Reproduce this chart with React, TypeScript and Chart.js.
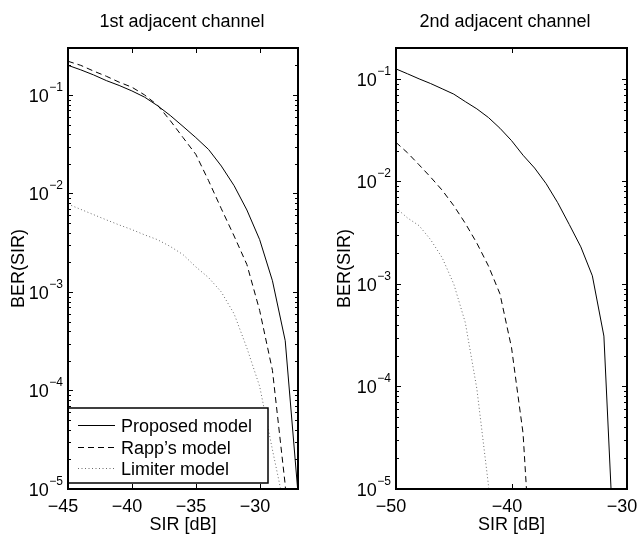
import React, { useEffect, useRef } from "react";
import { Chart, registerables } from "chart.js";

Chart.register(...registerables);

// ---------- data ----------
const leftTitle = "1st adjacent channel";
const rightTitle = "2nd adjacent channel";
const xAxisLabel = "SIR [dB]";
const yAxisLabel = "BER(SIR)";
const seriesNames = ["Proposed model", "Rapp’s model", "Limiter model"];

const leftSir = [-45, -44, -43, -42, -41, -40, -39, -38, -37, -36, -35, -34, -33, -32, -31, -30, -29, -28, -27];
const leftProposed = [0.2, 0.18, 0.16, 0.14, 0.125, 0.11, 0.095, 0.078, 0.062, 0.048, 0.037, 0.028, 0.019, 0.012, 0.0068, 0.0034, 0.0013, 3.2e-4, 9e-6];
const leftRapp = [0.22, 0.2, 0.175, 0.155, 0.135, 0.12, 0.1, 0.079, 0.055, 0.037, 0.025, 0.0135, 0.007, 0.0037, 0.0019, 6.5e-4, 1.6e-4, 1.1e-5, 1e-7];
const leftLimiter = [0.0078, 0.0069, 0.0061, 0.0054, 0.0048, 0.0043, 0.0038, 0.0034, 0.0029, 0.0024, 0.0018, 0.0014, 0.001, 6e-4, 2.7e-4, 1.1e-4, 2.5e-5, 6e-6, 1e-7];

const rightSir = [-50, -49, -48, -47, -46, -45, -44, -43, -42, -41, -40, -39, -38, -37, -36, -35, -34, -33, -32, -31, -30];
const rightProposed = [0.125, 0.112, 0.1, 0.09, 0.08, 0.071, 0.06, 0.051, 0.042, 0.033, 0.025, 0.018, 0.0135, 0.0095, 0.0062, 0.0038, 0.0023, 0.0012, 3.1e-4, 1.2e-6, 1e-8];
const rightRapp = [0.024, 0.019, 0.0145, 0.011, 0.0082, 0.0058, 0.0039, 0.0025, 0.0015, 8e-4, 2.4e-4, 3.5e-5, 5e-7];
const rightLimiter = [0.0055, 0.0044, 0.0037, 0.0027, 0.0018, 0.001, 4.2e-4, 9.5e-5, 1.1e-5, 1e-7];

const leftXTicks = [-45, -40, -35, -30];
const rightXTicks = [-50, -40, -30];
const yExponents = [-5, -4, -3, -2, -1];

// ---------- drawing ----------
const FONT = '"Liberation Sans", Arial, Helvetica, sans-serif';

const styles = [
  { borderColor: "#000", borderDash: [] as number[] },
  { borderColor: "#000", borderDash: [6, 4] },
  { borderColor: "#6a6a6a", borderDash: [1, 2.5] },
];

function fmtTick(v: number) {
  return v < 0 ? "\u2212" + String(-v) : String(v);
}

const matlabAxes = {
  id: "matlabAxes",
  afterDraw(chart: any, _args: any, o: any) {
    const ctx: CanvasRenderingContext2D = chart.ctx;
    const { left, right, top, bottom } = chart.chartArea;
    const xs = chart.scales.x;
    const ys = chart.scales.y;
    ctx.save();
    ctx.fillStyle = "#000";
    ctx.strokeStyle = "#000";

    // legend
    if (o.legend) {
      const L = o.legend;
      ctx.fillStyle = "#fff";
      ctx.fillRect(L.x, L.y, L.w, L.h);
      ctx.lineWidth = 1.5;
      ctx.strokeStyle = "#000";
      ctx.strokeRect(L.x, L.y, L.w, L.h);
      ctx.font = `18px ${FONT}`;
      ctx.textAlign = "left";
      ctx.textBaseline = "alphabetic";
      chart.data.datasets.forEach((ds: any, i: number) => {
        const yy = L.rowY[i];
        ctx.save();
        ctx.strokeStyle = ds.borderColor;
        ctx.lineWidth = 1;
        ctx.setLineDash(ds.borderDash || []);
        ctx.beginPath();
        ctx.moveTo(L.x + 10, yy + 0.5);
        ctx.lineTo(L.x + 47, yy + 0.5);
        ctx.stroke();
        ctx.restore();
        ctx.fillStyle = "#000";
        ctx.fillText(ds.label, L.x + 53, yy + 6.5);
      });
    }

    ctx.setLineDash([]);
    ctx.strokeStyle = "#000";
    ctx.fillStyle = "#000";

    // x ticks
    ctx.lineWidth = 1;
    ctx.font = `18px ${FONT}`;
    ctx.textAlign = "center";
    ctx.textBaseline = "alphabetic";
    for (const v of o.xTicks) {
      const px = Math.round(xs.getPixelForValue(v)) + 0.5;
      ctx.beginPath();
      ctx.moveTo(px, bottom);
      ctx.lineTo(px, bottom - 5);
      ctx.moveTo(px, top);
      ctx.lineTo(px, top + 5);
      ctx.stroke();
      ctx.fillText(fmtTick(v), px - 5.5, bottom + 23);
    }

    // y ticks (log)
    for (const e of yExponents) {
      const major = Math.pow(10, e);
      const py = Math.round(ys.getPixelForValue(major)) + 0.5;
      ctx.beginPath();
      ctx.moveTo(left, py);
      ctx.lineTo(left + 5, py);
      ctx.moveTo(right, py);
      ctx.lineTo(right - 5, py);
      ctx.stroke();
      // label 10^e
      const expText = "\u2212" + String(-e);
      ctx.font = `12px ${FONT}`;
      const ew = ctx.measureText(expText).width;
      ctx.font = `18px ${FONT}`;
      const bw = ctx.measureText("10").width;
      const xr = left - 5;
      ctx.textAlign = "left";
      ctx.fillText("10", xr - ew - bw - 0.5, py + 6.5);
      ctx.font = `12px ${FONT}`;
      ctx.fillText(expText, xr - ew, py - 5);
      for (let m = 2; m <= 9; m++) {
        const val = m * major;
        if (val > ys.max * 1.0001) break;
        const pm = Math.round(ys.getPixelForValue(val)) + 0.5;
        ctx.beginPath();
        ctx.moveTo(left, pm);
        ctx.lineTo(left + 3, pm);
        ctx.moveTo(right, pm);
        ctx.lineTo(right - 3, pm);
        ctx.stroke();
      }
    }

    // frame
    ctx.lineWidth = 2;
    ctx.strokeRect(left, top, right - left, bottom - top);

    // titles
    ctx.font = `18px ${FONT}`;
    ctx.textAlign = "center";
    ctx.textBaseline = "alphabetic";
    ctx.fillText(o.title, o.titleX, 27);
    ctx.fillText(xAxisLabel, (left + right) / 2, 530);
    ctx.save();
    ctx.translate(o.yLabelX, (top + bottom) / 2);
    ctx.rotate(-Math.PI / 2);
    ctx.fillText(yAxisLabel, 0, 0);
    ctx.restore();

    ctx.restore();
  },
};

function buildDatasets(xsArr: number[], series: number[][]) {
  return series.map((vals, i) => ({
    label: seriesNames[i],
    data: vals.map((y, j) => ({ x: xsArr[j], y })),
    borderColor: styles[i].borderColor,
    borderDash: styles[i].borderDash,
    borderWidth: 1,
    pointRadius: 0,
    tension: 0,
    fill: false,
  }));
}

function makeChart(
  canvas: HTMLCanvasElement,
  xsArr: number[],
  series: number[][],
  xMin: number,
  xMax: number,
  yMax: number,
  padding: any,
  pluginOpts: any
) {
  return new Chart(canvas, {
    type: "line",
    data: { datasets: buildDatasets(xsArr, series) as any },
    options: {
      animation: false,
      responsive: false,
      devicePixelRatio: 1,
      layout: { padding },
      plugins: {
        legend: { display: false },
        title: { display: false },
        tooltip: { enabled: false },
        matlabAxes: pluginOpts,
      } as any,
      scales: {
        x: { type: "linear", min: xMin, max: xMax, display: false },
        y: { type: "logarithmic", min: 1e-5, max: yMax, display: false },
      },
    },
    plugins: [matlabAxes as any],
  });
}

export default function App() {
  const leftRef = useRef<HTMLCanvasElement>(null);
  const rightRef = useRef<HTMLCanvasElement>(null);

  useEffect(() => {
    const c1 = makeChart(
      leftRef.current!,
      leftSir,
      [leftProposed, leftRapp, leftLimiter],
      -45,
      -27,
      0.3,
      { left: 68, right: 20, top: 48, bottom: 49 },
      {
        xTicks: leftXTicks,
        title: leftTitle,
        titleX: 182,
        yLabelX: 24,
        legend: { x: 68, y: 408, w: 200, h: 75, rowY: [425, 447, 468] },
      }
    );
    const c2 = makeChart(
      rightRef.current!,
      rightSir,
      [rightProposed, rightRapp, rightLimiter],
      -50,
      -30,
      0.2,
      { left: 78, right: 11, top: 48, bottom: 49 },
      {
        xTicks: rightXTicks,
        title: rightTitle,
        titleX: 187,
        yLabelX: 32,
      }
    );
    return () => {
      c1.destroy();
      c2.destroy();
    };
  }, []);

  return (
    <div style={{ position: "fixed", left: 0, top: 0, width: 638, height: 538, background: "#fff" }}>
      <canvas ref={leftRef} width={318} height={538} style={{ position: "absolute", left: 0, top: 0, width: 318, height: 538 }} />
      <canvas ref={rightRef} width={320} height={538} style={{ position: "absolute", left: 318, top: 0, width: 320, height: 538 }} />
    </div>
  );
}
